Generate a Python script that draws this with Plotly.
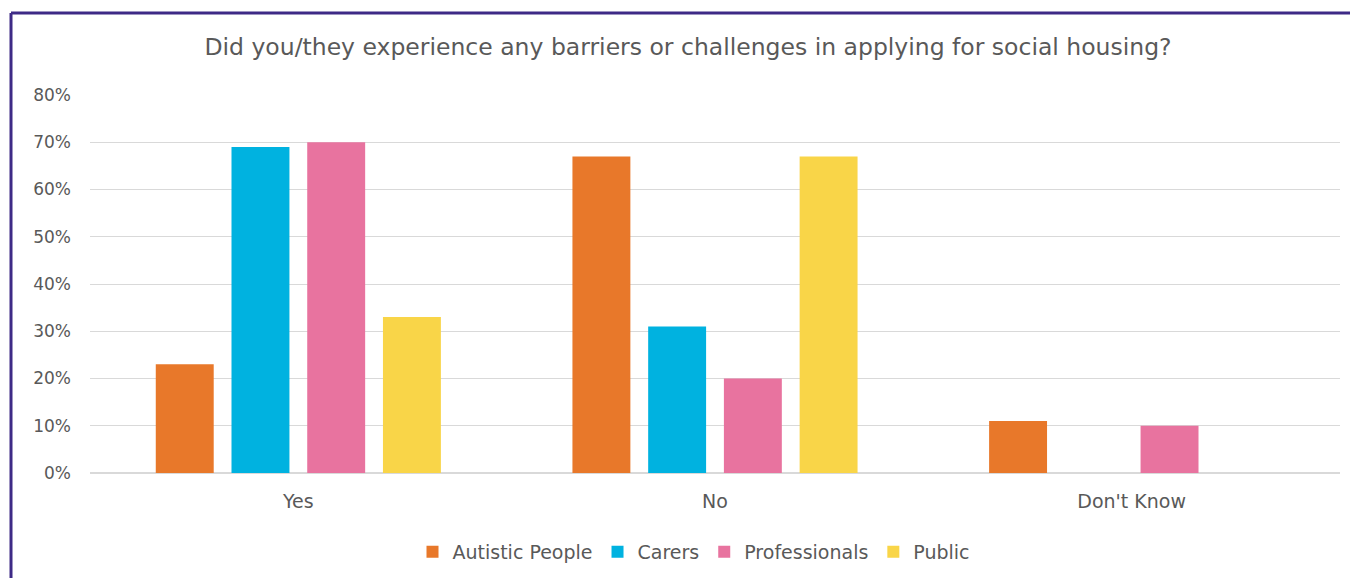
import plotly.graph_objects as go

categories = ["Yes", "No", "Don't Know"]
series_names = ["Autistic People", "Carers", "Professionals", "Public"]
autistic = [0.23, 0.67, 0.11]
carers = [0.69, 0.31, 0.0]
professionals = [0.70, 0.20, 0.10]
public = [0.33, 0.67, 0.0]
tick_vals = [0, 0.1, 0.2, 0.3, 0.4, 0.5, 0.6, 0.7, 0.8]
tick_text = ["0%", "10%", "20%", "30%", "40%", "50%", "60%", "70%", "80%"]
title_text = "Did you/they experience any barriers or challenges in applying for social housing?"

colors = ["#E8782A", "#00B2E0", "#E8739F", "#F9D548"]
FONT = "'DejaVu Sans', sans-serif"
GREY = "#595959"

OFF = 8  # page body margin
W, H = 1358 - OFF, 578 - OFF
# target pixel positions in the window
PLOT_L, PLOT_R, PLOT_T, PLOT_B = 90, 1340, 95, 473
L = PLOT_L - OFF
R = W - (PLOT_R - OFF)
T = PLOT_T - OFF
B = H - (PLOT_B - OFF)
pw = W - L - R
ph = H - T - B

fig = go.Figure()
for name, vals, c in zip(series_names, [autistic, carers, professionals, public], colors):
    fig.add_trace(go.Bar(x=categories, y=vals, name=name, marker=dict(color=c, line=dict(width=0))))

def px_to_paper_x(px):
    return (px - PLOT_L) / pw

def py_to_paper_y(py):
    return (PLOT_B - py) / ph

fig.update_layout(
    width=W, height=H,
    margin=dict(l=L, r=R, t=T, b=B, autoexpand=False),
    paper_bgcolor="white", plot_bgcolor="white",
    barmode="group", bargap=0.273, bargroupgap=0.235,
    font=dict(family=FONT, color=GREY, size=17),
    title=dict(text=title_text, x=px_to_paper_x(688), xanchor="center", xref="paper",
               y=1 - (47 - OFF) / H, yanchor="middle", yref="container",
               font=dict(size=23.5, color=GREY, family=FONT)),
    xaxis=dict(showgrid=False, showline=False, ticks="", tickfont=dict(size=19, color=GREY),
               ticklabelstandoff=15),
    yaxis=dict(range=[0, 0.8], tickvals=tick_vals, ticktext=tick_text, showgrid=True,
               gridcolor="#D9D9D9", gridwidth=1, zeroline=True, zerolinecolor="#D9D9D9",
               showline=False, ticks="", tickfont=dict(size=17, color=GREY), ticklabelstandoff=18),
    legend=dict(orientation="h", x=px_to_paper_x(694), xanchor="center",
                yref="container", y=1 - (552 - OFF) / H,
                yanchor="middle", font=dict(size=19, color=GREY), itemwidth=30, traceorder="normal"),
    showlegend=True,
)

# border frame (left and top edges visible)
fig.add_shape(type="line", xref="paper", yref="paper",
              x0=px_to_paper_x(11), x1=px_to_paper_x(1400), y0=py_to_paper_y(13), y1=py_to_paper_y(13),
              line=dict(color="#3E2A86", width=3))
fig.add_shape(type="line", xref="paper", yref="paper",
              x0=px_to_paper_x(11), x1=px_to_paper_x(11), y0=py_to_paper_y(13), y1=py_to_paper_y(620),
              line=dict(color="#3E2A86", width=3))

fig.write_html("out.html")
